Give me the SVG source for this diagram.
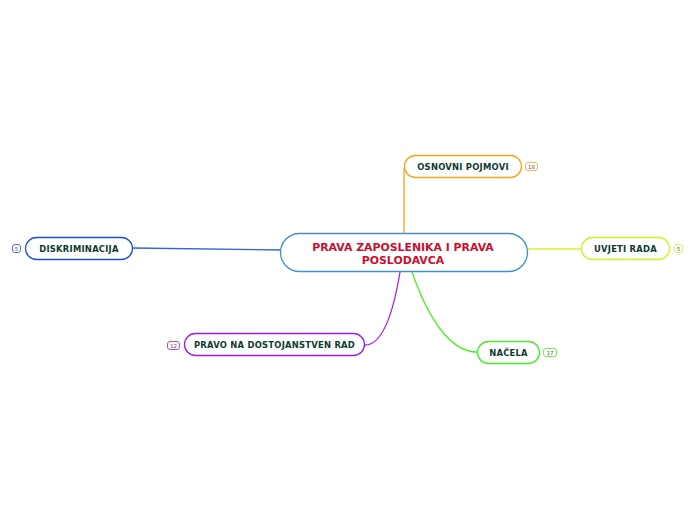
<svg xmlns="http://www.w3.org/2000/svg" width="696" height="520" viewBox="0 0 696 520">
<style>
.lbl{font-family:"DejaVu Sans",Verdana,sans-serif;font-weight:bold;font-size:8.4px;letter-spacing:0.25px;fill:#0c3b2e;text-anchor:middle}
.ctr{font-family:"DejaVu Sans",Verdana,sans-serif;font-weight:bold;font-size:10.9px;fill:#c8102e;text-anchor:middle}
.bdg{font-family:"DejaVu Sans",Verdana,sans-serif;font-size:5.5px;fill:#555;text-anchor:middle}
.node{fill:#fff;stroke-width:1.3}
.badge{fill:#fff;stroke-width:0.8}
.conn{fill:none;stroke-width:1.3}
</style>
<rect width="696" height="520" fill="#fff"/>
<g id="connectors">
<path class="conn" d="M404,234 L404,168" stroke="#f7a21b"/>
<path class="conn" d="M133,248 L281,250" stroke="#2a64e0"/>
<path class="conn" d="M528,249 L581,249" stroke="#d8f030"/>
<path class="conn" d="M400,272 Q388,345 365,345" stroke="#a020f0"/>
<path class="conn" d="M412,272 C428,318 450,352 477,352" stroke="#4cee22"/>
</g>
<g id="center">
<rect class="node" x="280.5" y="233.5" width="247" height="38" rx="19" stroke="#3d8fd0"/>
<text class="ctr" x="403" y="250.5">PRAVA ZAPOSLENIKA I PRAVA</text>
<text class="ctr" x="403" y="264">POSLODAVCA</text>
</g>
<g id="osnovni">
<rect class="node" x="404.5" y="155.5" width="117" height="22" rx="11" stroke="#f7a21b"/>
<text class="lbl" x="463" y="169.5">OSNOVNI POJMOVI</text>
<rect class="badge" x="525.5" y="162.5" width="12" height="8" rx="2.5" stroke="#f7a21b"/>
<text class="bdg" x="531.5" y="168.5">18</text>
</g>
<g id="diskriminacija">
<rect class="node" x="25.5" y="237.5" width="107" height="22" rx="11" stroke="#1e4fd8"/>
<text class="lbl" x="79" y="251.5">DISKRIMINACIJA</text>
<rect class="badge" x="12.5" y="244.5" width="8" height="8" rx="2.5" stroke="#1e4fd8"/>
<text class="bdg" x="16.5" y="250.5">5</text>
</g>
<g id="uvjeti">
<rect class="node" x="581.5" y="237.5" width="88" height="22" rx="11" stroke="#d4f020"/>
<text class="lbl" x="625.5" y="251.5">UVJETI RADA</text>
<rect class="badge" x="674.5" y="244.5" width="8" height="8" rx="2.5" stroke="#d4f020"/>
<text class="bdg" x="678.5" y="250.5">5</text>
</g>
<g id="pravo">
<rect class="node" x="184.5" y="333.5" width="180" height="22" rx="11" stroke="#9b1de8"/>
<text class="lbl" x="274.5" y="347.5">PRAVO NA DOSTOJANSTVEN RAD</text>
<rect class="badge" x="167.5" y="341.5" width="12" height="8" rx="2.5" stroke="#9b1de8"/>
<text class="bdg" x="173.5" y="347.5">12</text>
</g>
<g id="nacela">
<rect class="node" x="477.5" y="341.5" width="62" height="22" rx="11" stroke="#44ee22"/>
<text class="lbl" x="508.5" y="355.5">NAČELA</text>
<rect class="badge" x="543.5" y="348.5" width="13" height="8" rx="2.5" stroke="#44ee22"/>
<text class="bdg" x="550" y="354.5">17</text>
</g>
</svg>
